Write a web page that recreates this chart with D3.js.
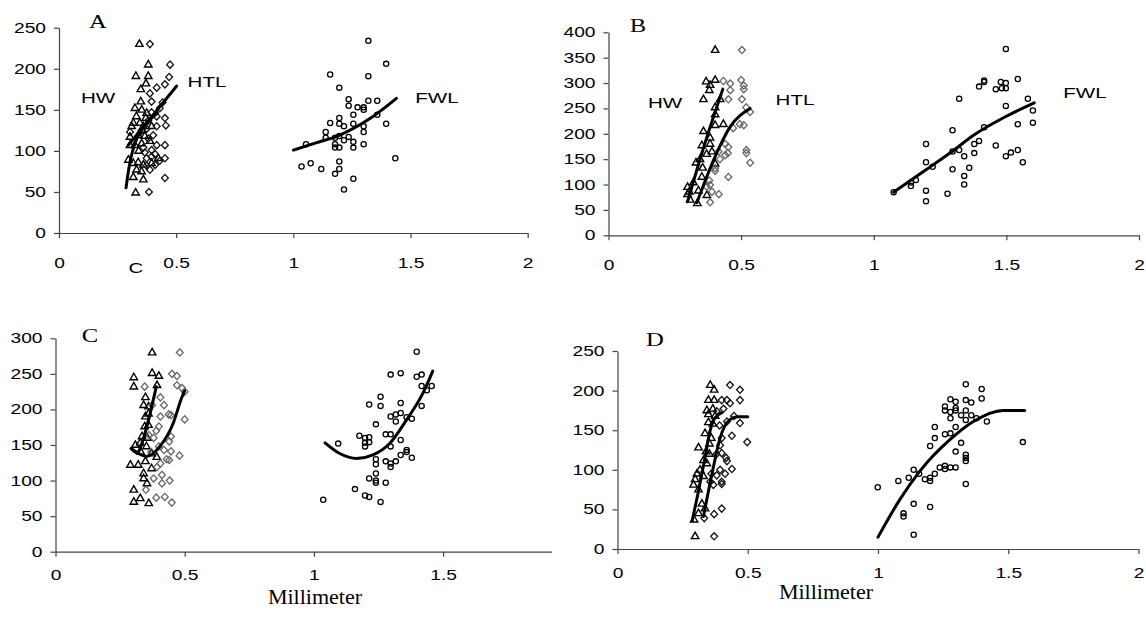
<!DOCTYPE html>
<html><head><meta charset="utf-8">
<script src="https://cdn.jsdelivr.net/npm/d3@7"></script>
<style>body{margin:0;background:#fff}svg{display:block}</style>
</head><body>
<svg id="chart" width="1146" height="630"></svg>
<script>
// ---------- data ----------
const panelLetters = ["A", "B", "C", "D"];
const seriesNames = ["HW", "HTL", "FWL"];
const xTicksFull = [0, 0.5, 1, 1.5, 2];
const xTicksC = [0, 0.5, 1, 1.5];
const yTicksA = [0, 50, 100, 150, 200, 250];
const yTicksB = [0, 50, 100, 150, 200, 250, 300, 350, 400];
const yTicksC = [0, 50, 100, 150, 200, 250, 300];
const yTicksD = [0, 50, 100, 150, 200, 250];
const xLabel = "Millimeter";

// Panel A
const aHW = [[0.343,230],[0.381,205],[0.328,191],[0.381,191],[0.371,182],[0.349,175],[0.349,160],[0.324,152],[0.353,150],[0.374,146],[0.33,142],[0.317,134],[0.345,134],[0.36,130],[0.395,130],[0.303,117],[0.338,119],[0.366,118],[0.324,107],[0.353,109],[0.388,112],[0.303,107],[0.296,89],[0.317,85],[0.338,86],[0.36,83],[0.395,85],[0.424,91],[0.331,77],[0.352,75],[0.317,68],[0.36,65],[0.327,49],[0.34,100],[0.37,140],[0.356,125],[0.31,130]];
const aHTL = [[0.388,230],[0.474,205],[0.47,190],[0.452,181],[0.417,177],[0.388,170],[0.395,160],[0.442,159],[0.43,152],[0.395,147],[0.417,142],[0.452,140],[0.381,137],[0.417,130],[0.374,127],[0.456,131],[0.353,125],[0.402,119],[0.381,115],[0.303,123],[0.417,107],[0.395,101],[0.452,107],[0.36,104],[0.395,93],[0.374,91],[0.43,88],[0.452,91],[0.388,77],[0.41,83],[0.374,82],[0.452,67],[0.384,50],[0.366,98],[0.41,96]];
const aFWL = [[1.32,234],[1.396,206],[1.157,193],[1.32,191],[1.196,177],[1.236,163],[1.236,155],[1.274,153],[1.30,153],[1.30,150],[1.32,161],[1.358,161],[1.256,144],[1.358,144],[1.157,134],[1.196,140],[1.196,133],[1.216,130],[1.256,133],[1.30,130],[1.396,133],[1.138,123],[1.138,116],[1.178,116],[1.196,118],[1.236,117],[1.216,113],[1.178,108],[1.178,104],[1.196,104],[1.256,111],[1.256,104],[1.30,123],[1.30,108],[1.054,108],[1.035,81],[1.074,85],[1.119,78],[1.196,87],[1.196,78],[1.178,72],[1.256,66],[1.216,53],[1.435,91]];
const aHWfit = [[0.286,55],[0.3,82],[0.32,106],[0.35,124],[0.385,137],[0.42,146]];
const aHTLfit = [[0.296,107],[0.4,143],[0.502,179]];
const aFWLfit = [[1.0,101],[1.1,110],[1.196,119],[1.33,140],[1.44,164]];

// Panel B
const bHW = [[0.402,365],[0.368,303],[0.402,306],[0.383,296],[0.38,286],[0.358,268],[0.421,268],[0.402,252],[0.402,238],[0.402,217],[0.433,219],[0.358,205],[0.383,192],[0.352,177],[0.383,180],[0.39,165],[0.33,143],[0.355,133],[0.402,141],[0.352,115],[0.32,104],[0.298,95],[0.305,86],[0.298,81],[0.339,88],[0.371,79],[0.335,63],[0.308,70],[0.37,160],[0.345,150]];
const bHTL = [[0.503,365],[0.433,304],[0.459,299],[0.5,306],[0.51,295],[0.459,286],[0.51,288],[0.452,268],[0.503,268],[0.519,252],[0.534,243],[0.495,219],[0.51,217],[0.47,211],[0.44,180],[0.452,174],[0.415,165],[0.45,162],[0.44,158],[0.402,132],[0.402,127],[0.52,168],[0.52,162],[0.534,143],[0.452,115],[0.383,99],[0.39,86],[0.416,81],[0.383,65],[0.37,96],[0.38,108],[0.42,150]];
const bFWL = [[1.498,367],[1.416,305],[1.416,302],[1.397,293],[1.479,302],[1.498,300],[1.46,288],[1.483,290],[1.498,290],[1.543,308],[1.322,269],[1.581,269],[1.498,255],[1.6,246],[1.6,222],[1.543,219],[1.416,213],[1.297,207],[1.397,186],[1.379,180],[1.379,162],[1.46,177],[1.197,180],[1.322,168],[1.297,165],[1.341,156],[1.498,156],[1.517,163],[1.543,168],[1.562,144],[1.197,144],[1.222,135],[1.36,133],[1.297,130],[1.341,117],[1.341,100],[1.159,109],[1.14,104],[1.14,97],[1.075,85],[1.197,88],[1.278,82],[1.197,67]];
const bHWfit = [[0.298,66],[0.358,172],[0.431,288]];
const bHTLfit = [[0.333,64],[0.402,155],[0.459,214],[0.534,250]];
const bFWLfit = [[1.075,85],[1.197,129],[1.29,163],[1.379,198],[1.498,234],[1.605,261]];

// Panel C
const cHW = [[0.374,280],[0.303,245],[0.303,232],[0.374,251],[0.4,247],[0.393,234],[0.348,217],[0.341,206],[0.36,204],[0.348,190],[0.36,194],[0.345,176],[0.36,178],[0.335,162],[0.328,153],[0.309,150],[0.352,148],[0.372,138],[0.392,133],[0.348,127],[0.29,122],[0.32,122],[0.372,117],[0.341,110],[0.341,103],[0.354,96],[0.303,87],[0.303,70],[0.328,75],[0.361,68],[0.33,140],[0.355,160]];
const cHTL = [[0.481,280],[0.451,250],[0.47,247],[0.345,232],[0.47,234],[0.49,230],[0.5,225],[0.406,217],[0.42,206],[0.374,206],[0.438,193],[0.406,190],[0.447,192],[0.5,186],[0.4,176],[0.361,164],[0.38,160],[0.447,162],[0.44,155],[0.4,148],[0.42,143],[0.447,141],[0.48,135],[0.44,129],[0.406,124],[0.393,119],[0.412,108],[0.38,103],[0.412,96],[0.442,100],[0.39,76],[0.423,77],[0.45,69],[0.35,87],[0.43,130],[0.37,140],[0.39,170]];
const cFWL = [[1.398,281],[1.297,249],[1.336,251],[1.398,246],[1.417,249],[1.417,233],[1.437,227],[1.456,233],[1.258,218],[1.214,207],[1.258,205],[1.336,209],[1.417,205],[1.297,190],[1.317,193],[1.336,195],[1.317,183],[1.359,189],[1.379,187],[1.24,179],[1.176,163],[1.198,160],[1.214,161],[1.198,153],[1.214,154],[1.198,148],[1.278,165],[1.297,165],[1.297,148],[1.336,157],[1.094,152],[1.24,130],[1.24,123],[1.278,127],[1.297,124],[1.297,119],[1.317,127],[1.336,136],[1.359,143],[1.359,140],[1.379,132],[1.24,110],[1.214,103],[1.24,100],[1.24,97],[1.278,97],[1.159,88],[1.198,79],[1.214,77],[1.258,70],[1.036,73]];
const cHWfit = [[0.293,145],[0.315,139],[0.345,165],[0.37,200],[0.39,232]];
const cHTLfit = [[0.293,145],[0.353,134],[0.404,148],[0.456,181],[0.488,216],[0.5,226]];
const cFWLfit = [[1.043,153],[1.1,138],[1.166,131],[1.229,136],[1.293,152],[1.358,185],[1.422,223],[1.46,254]];

// Panel D
const dHW = [[0.356,207],[0.371,201],[0.349,188],[0.371,188],[0.343,175],[0.349,170],[0.366,177],[0.349,160],[0.366,158],[0.336,146],[0.353,133],[0.311,128],[0.353,120],[0.33,112],[0.343,108],[0.317,100],[0.298,88],[0.292,81],[0.311,75],[0.324,57],[0.336,51],[0.311,45],[0.294,37],[0.298,16],[0.33,92],[0.36,140],[0.34,123],[0.305,95],[0.375,168]];
const dHTL = [[0.432,207],[0.47,201],[0.47,188],[0.4,188],[0.42,188],[0.432,184],[0.381,174],[0.407,177],[0.447,168],[0.42,161],[0.392,156],[0.47,159],[0.439,143],[0.4,140],[0.394,131],[0.4,121],[0.417,115],[0.42,111],[0.439,101],[0.394,100],[0.413,95],[0.381,93],[0.4,85],[0.4,82],[0.368,81],[0.356,85],[0.498,135],[0.4,51],[0.371,44],[0.333,39],[0.371,16],[0.38,120],[0.36,95]];
const dFWL = [[1.337,208],[1.398,202],[1.398,190],[1.278,189],[1.298,186],[1.337,188],[1.358,185],[1.257,180],[1.257,175],[1.278,173],[1.298,178],[1.298,175],[1.337,175],[1.319,169],[1.358,169],[1.278,165],[1.337,163],[1.378,165],[1.418,161],[1.218,154],[1.298,154],[1.257,145],[1.278,146],[1.218,140],[1.2,130],[1.319,134],[1.298,123],[1.337,119],[1.337,115],[1.337,111],[1.237,103],[1.257,105],[1.257,101],[1.278,103],[1.298,103],[1.218,95],[1.2,90],[1.2,86],[1.18,88],[1.158,95],[1.137,100],[1.118,90],[1.078,86],[1.337,82],[0.999,78],[1.137,57],[1.2,53],[1.098,45],[1.098,41],[1.137,18],[1.556,135]];
const dHWfit = [[0.287,36],[0.309,70],[0.334,112],[0.353,146],[0.373,165],[0.4,172]];
const dHTLfit = [[0.33,41],[0.366,100],[0.392,138],[0.43,163],[0.462,167],[0.5,167]];
const dFWLfit = [[1.0,15],[1.083,62],[1.16,98],[1.276,138],[1.366,161],[1.48,175],[1.563,175]];

// ---------- drawing ----------
const svg = d3.select("#chart");
const SX = 1.37; // horizontal stretch of the original text
const SANS = "'Liberation Sans', Arial, sans-serif";
const SERIF = "'Liberation Serif', 'Times New Roman', serif";

const panels = [
  {letter: panelLetters[0], x0: 59, x1: 527.7, y0: 233, y1: 27.7, xMax: 2, yMax: 250, xTicks: xTicksFull, yTicks: yTicksA, xLabOff: 30,
   hw: aHW, htl: aHTL, fwl: aFWL, hwFit: aHWfit, htlFit: aHTLfit, fwlFit: aFWLfit, diamond: "#111",
   letterPos: [98, 30], labels: [[98, 103], [207, 87], [437, 103]]},
  {letter: panelLetters[1], x0: 608.5, x1: 1139, y0: 235.3, y1: 32.3, xMax: 2, yMax: 400, xTicks: xTicksFull, yTicks: yTicksB, xLabOff: 30,
   hw: bHW, htl: bHTL, fwl: bFWL, hwFit: bHWfit, htlFit: bHTLfit, fwlFit: bFWLfit, diamond: "#666",
   letterPos: [638, 34], labels: [[665, 108], [795, 105], [1085, 98]]},
  {letter: panelLetters[2], x0: 55.5, x1: 551.6, y0: 551.7, y1: 338.3, xMax: 1.92, yMax: 300, xTicks: xTicksC, yTicks: yTicksC, xLabOff: 23,
   hw: cHW, htl: cHTL, fwl: cFWL, hwFit: cHWfit, htlFit: cHTLfit, fwlFit: cFWLfit, diamond: "#666",
   letterPos: [90, 344], labels: null},
  {letter: panelLetters[3], x0: 617.5, x1: 1138.5, y0: 549, y1: 351, xMax: 2, yMax: 250, xTicks: xTicksFull, yTicks: yTicksD, xLabOff: 24,
   hw: dHW, htl: dHTL, fwl: dFWL, hwFit: dHWfit, htlFit: dHTLfit, fwlFit: dFWLfit, diamond: "#111",
   letterPos: [655, 348], labels: null}
];

function stretchedText(g, x, y, str, size, family, anchor) {
  return g.append("text")
    .attr("transform", `translate(${x},${y}) scale(${SX},1)`)
    .attr("text-anchor", anchor || "middle")
    .attr("dy", "0.35em")
    .style("font-family", family).style("font-size", size + "px")
    .attr("fill", "#000")
    .text(str);
}

const triPath = "M0,-4.2L3.7,2.3L-3.7,2.3Z";
const diaPath = "M0,-3.6L3.4,0L0,3.6L-3.4,0Z";

panels.forEach(p => {
  const g = svg.append("g");
  const x = d3.scaleLinear().domain([0, p.xMax]).range([p.x0, p.x1]);
  const y = d3.scaleLinear().domain([0, p.yMax]).range([p.y0, p.y1]);

  const gy = g.append("g").attr("transform", `translate(${p.x0},0)`)
    .call(d3.axisLeft(y).tickValues(p.yTicks).tickSize(5).tickSizeOuter(0).tickFormat(d => String(d)));
  const gx = g.append("g").attr("transform", `translate(0,${p.y0})`)
    .call(d3.axisBottom(x).tickValues(p.xTicks).tickSize(5).tickSizeOuter(0).tickFormat(d => String(d)));
  [gy, gx].forEach(ax => {
    ax.select(".domain").attr("stroke", "#444").attr("stroke-width", 1.2);
    ax.selectAll(".tick line").attr("stroke", "#444").attr("stroke-width", 1.2);
    ax.selectAll("text").style("font-family", SANS).style("font-size", "14px").attr("fill", "#000");
  });
  gy.selectAll("text").attr("x", -13 / SX).attr("transform", `scale(${SX},1)`);
  gx.selectAll("text").attr("y", p.xLabOff).attr("dy", "0.35em").attr("transform", `scale(${SX},1)`);

  // markers
  g.append("g").selectAll("path").data(p.hw).join("path")
    .attr("d", triPath).attr("transform", d => `translate(${x(d[0])},${y(d[1])})`)
    .attr("fill", "none").attr("stroke", "#000").attr("stroke-width", 1.4);
  g.append("g").selectAll("path").data(p.htl).join("path")
    .attr("d", diaPath).attr("transform", d => `translate(${x(d[0])},${y(d[1])})`)
    .attr("fill", "none").attr("stroke", p.diamond).attr("stroke-width", 1.3);
  g.append("g").selectAll("circle").data(p.fwl).join("circle")
    .attr("cx", d => x(d[0])).attr("cy", d => y(d[1])).attr("r", 2.6)
    .attr("fill", "none").attr("stroke", "#000").attr("stroke-width", 1.3);

  // trend lines
  const line = d3.line().x(d => x(d[0])).y(d => y(d[1])).curve(d3.curveMonotoneX);
  [p.hwFit, p.htlFit, p.fwlFit].forEach(f => {
    g.append("path").attr("d", line(f)).attr("fill", "none")
      .attr("stroke", "#000").attr("stroke-width", 3).attr("stroke-linecap", "round");
  });

  stretchedText(g, p.letterPos[0], p.letterPos[1] - 8, p.letter, 18, SERIF);
  if (p.labels) {
    p.labels.forEach((pos, i) => stretchedText(g, pos[0], pos[1] - 5, seriesNames[i], 15, SANS));
  }
});

// stray "C" under panel A axis and the shared axis titles
stretchedText(svg, 136, 268, panelLetters[2], 15, SANS);
svg.append("text").attr("transform", `translate(315,597) scale(1.05,1)`).attr("text-anchor", "middle").attr("dy", "0.35em")
  .style("font-family", SERIF).style("font-size", "21px").text(xLabel);
svg.append("text").attr("transform", `translate(826,592) scale(1.05,1)`).attr("text-anchor", "middle").attr("dy", "0.35em")
  .style("font-family", SERIF).style("font-size", "21px").text(xLabel);
</script>
</body></html>
